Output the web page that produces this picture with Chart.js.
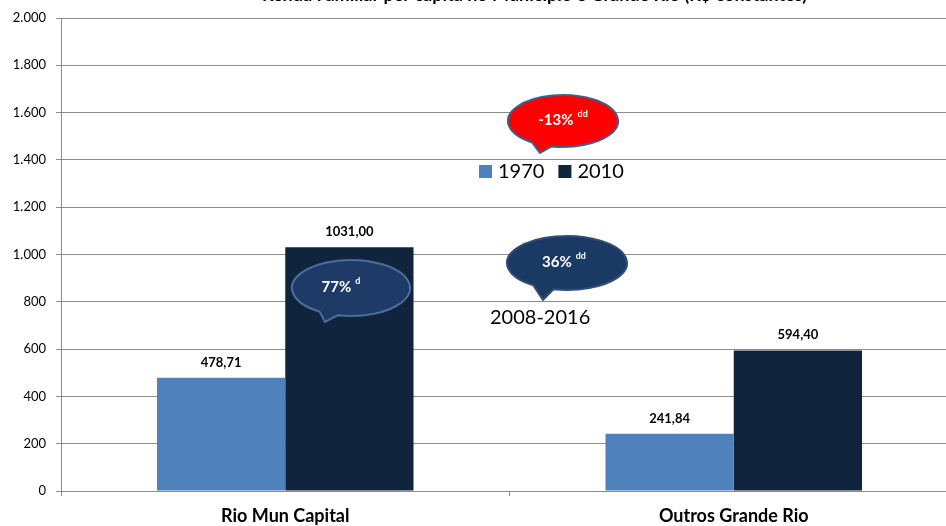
<!DOCTYPE html>
<html>
<head>
<meta charset="utf-8">
<script src="https://cdn.jsdelivr.net/npm/chart.js@4/dist/chart.umd.min.js"></script>
<style>
    html, body { margin: 0; padding: 0; background: #fff; overflow: hidden; }
    #wrap { width: 946px; height: 526px; overflow: hidden; }
</style>
</head>
<body>
<div id="wrap"><canvas id="chart" width="958" height="526"></canvas></div>
<script>
const categories = ['Rio Mun Capital', 'Outros Grande Rio'];
const seriesLabels = ['1970', '2010'];
const values1970 = [478.71, 241.84];
const values2010 = [1031.00, 594.40];
const yMax = 2000;
const yStep = 200;

const titleText = 'Renda Familiar per capita no Município e Grande Rio (R$ constantes)';
const periodText = '2008-2016';

const colors = ['#4F81BD', '#10243E'];
const FONT = 'Lato, "Open Sans", sans-serif';

// speech bubbles over the chart
const bubbles = [
    { text: '-13%', sup: 'dd', cx: 563, cy: 121, rx: 55, ry: 26, tip: [540, 153], a1: 124, a2: 102, fill: '#FF0000', stroke: '#3E5F8C', dx: 0 },
    { text: '77%', sup: 'd', cx: 351, cy: 288, rx: 59, ry: 28, tip: [325, 322], a1: 122, a2: 103, fill: '#1E3B67', stroke: '#4A6E9E', dx: -10 },
    { text: '36%', sup: 'dd', cx: 567, cy: 263, rx: 60, ry: 27, tip: [543, 300], a1: 124, a2: 103, fill: '#1A3963', stroke: '#2F4F7A', dx: -3 },
];

function formatThousands(v) {
    return String(v).replace(/\B(?=(\d{3})+(?!\d))/g, '.');
}

function formatValue(v) {
    return v.toFixed(2).replace('.', ',');
}

const overlayPlugin = {
    id: 'overlay',
    afterDatasetsDraw(chart) {
        const ctx = chart.ctx;
        ctx.save();

        // value labels above the bars
        ctx.fillStyle = '#000';
        ctx.font = `bold 13px ${FONT}`;
        ctx.textAlign = 'center';
        ctx.textBaseline = 'alphabetic';
        chart.data.datasets.forEach((ds, i) => {
            chart.getDatasetMeta(i).data.forEach((bar, j) => {
                ctx.fillText(formatValue(ds.data[j]), bar.x, bar.y - 11);
            });
        });

        // title (cut off at the top)
        ctx.font = `bold 18px ${FONT}`;
        ctx.textAlign = 'left';
        ctx.fillText(titleText, 262, 1);

        // legend in the middle of the plot
        ctx.font = `20px ${FONT}`;
        ctx.textBaseline = 'middle';
        let lx = 479;
        seriesLabels.forEach((label, i) => {
            ctx.fillStyle = colors[i];
            ctx.fillRect(lx, 165, 13, 13);
            ctx.fillStyle = '#000';
            ctx.fillText(label, lx + 19, 172);
            lx += 19 + ctx.measureText(label).width + 14;
        });

        ctx.fillText(periodText, 490, 318);

        bubbles.forEach((b) => {
            const r1 = b.a1 * Math.PI / 180;
            const r2 = b.a2 * Math.PI / 180;
            ctx.beginPath();
            ctx.ellipse(b.cx, b.cy, b.rx, b.ry, 0, r1, r2 + Math.PI * 2, false);
            ctx.lineTo(b.tip[0], b.tip[1]);
            ctx.closePath();
            ctx.fillStyle = b.fill;
            ctx.fill();
            ctx.lineWidth = 2;
            ctx.strokeStyle = b.stroke;
            ctx.stroke();

            ctx.fillStyle = '#fff';
            ctx.textBaseline = 'alphabetic';
            ctx.font = `bold 15px ${FONT}`;
            const w1 = ctx.measureText(b.text).width;
            ctx.font = `bold 9px ${FONT}`;
            const w2 = ctx.measureText(b.sup).width;
            const x0 = b.cx + b.dx - (w1 + 4 + w2) / 2;
            ctx.font = `bold 15px ${FONT}`;
            ctx.fillText(b.text, x0, b.cy + 4);
            ctx.font = `bold 9px ${FONT}`;
            ctx.fillText(b.sup, x0 + w1 + 4, b.cy - 4);
        });

        ctx.restore();
    },
};

new Chart(document.getElementById('chart'), {
    type: 'bar',
    data: {
        labels: categories,
        datasets: [
            { label: seriesLabels[0], data: values1970, backgroundColor: colors[0] },
            { label: seriesLabels[1], data: values2010, backgroundColor: colors[1] },
        ],
    },
    options: {
        responsive: false,
        animation: false,
        layout: { padding: { top: 18, left: 0, right: 0, bottom: 0 } },
        datasets: {
            bar: { categoryPercentage: 0.572, barPercentage: 1 },
        },
        plugins: {
            legend: { display: false },
            tooltip: { enabled: false },
        },
        scales: {
            x: {
                offset: true,
                grid: { offset: true, drawOnChartArea: false, drawTicks: true, tickLength: 5, color: '#8C8C8C' },
                border: { color: '#8C8C8C' },
                ticks: { color: '#000', font: { family: FONT, size: 18, weight: 'bold' }, padding: 9 },
                afterFit(scale) { scale.height = 35; },
            },
            y: {
                min: 0,
                max: yMax,
                ticks: {
                    stepSize: yStep,
                    color: '#000',
                    font: { family: FONT, size: 13 },
                    padding: 10,
                    callback: (v) => formatThousands(v),
                },
                grid: { color: '#8C8C8C', tickLength: 5 },
                border: { color: '#8C8C8C' },
                afterFit(scale) { scale.width = 61; },
            },
        },
    },
    plugins: [overlayPlugin],
});
</script>
</body>
</html>
